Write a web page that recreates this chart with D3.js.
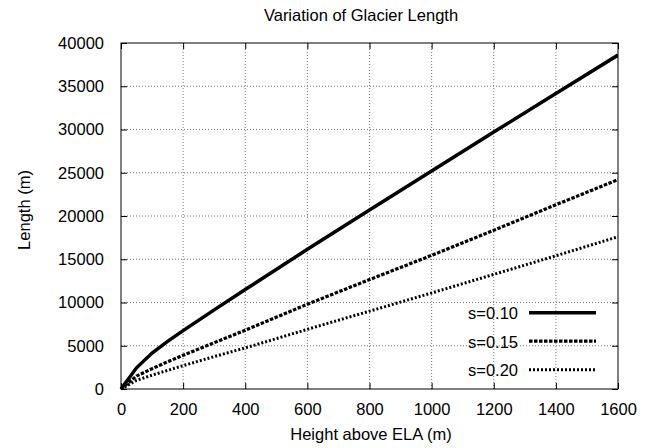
<!DOCTYPE html>
<html>
<head>
<meta charset="utf-8">
<script src="https://cdn.jsdelivr.net/npm/d3@7"></script>
<style>
  body { margin: 0; background: #fff; }
  svg text { font-family: "Liberation Sans", Arial, sans-serif; font-size: 16.5px; fill: #000; }
</style>
</head>
<body>
<div id="chart"></div>
<script>
const width = 653;
const height = 448;
const margin = {top: 43, left: 121, bottom: 59, right: 35};

// height above ELA (m)
const heights = [0, 50, 100, 150, 200, 300, 400, 600, 800, 1000, 1200, 1400, 1600];
const s010 = [0, 2450, 4150, 5500, 6750, 9150, 11500, 16150, 20700, 25200, 29700, 34150, 38600];
const s015 = [0, 1500, 2350, 3150, 3900, 5350, 6800, 9800, 12650, 15450, 18350, 21300, 24200];
const s020 = [0, 1000, 1600, 2150, 2700, 3750, 4750, 6900, 9000, 11100, 13250, 15400, 17600];
const seriesNames = ['s=0.10', 's=0.15', 's=0.20'];
const xTicks = [0, 200, 400, 600, 800, 1000, 1200, 1400, 1600];
const yTicks = [0, 5000, 10000, 15000, 20000, 25000, 30000, 35000, 40000];

const series = [
  {name: seriesNames[0], values: s010, width: 3.5, dash: null},
  {name: seriesNames[1], values: s015, width: 3.2, dash: '3.5,1.5'},
  {name: seriesNames[2], values: s020, width: 3, dash: '2,2'}
];

const x = d3.scaleLinear().domain([0, 1600]).range([margin.left, width - margin.right]);
const y = d3.scaleLinear().domain([0, 40000]).range([height - margin.bottom, margin.top]);

const svg = d3.select('#chart').append('svg')
  .attr('width', width).attr('height', height);

// grid
svg.append('g').selectAll('line').data(xTicks.slice(1, -1)).enter().append('line')
  .attr('x1', d => x(d)).attr('x2', d => x(d))
  .attr('y1', y(0)).attr('y2', y(40000))
  .attr('stroke', '#777').attr('stroke-width', 1).attr('stroke-dasharray', '1,2');
svg.append('g').selectAll('line').data(yTicks.slice(1, -1)).enter().append('line')
  .attr('x1', x(0)).attr('x2', x(1600))
  .attr('y1', d => y(d)).attr('y2', d => y(d))
  .attr('stroke', '#777').attr('stroke-width', 1).attr('stroke-dasharray', '1,2');

// axes (ticks inward, mirrored)
const fmt = d3.format('d');
const xAxis = g => g
  .attr('transform', `translate(0, ${y(0)})`)
  .call(d3.axisBottom(x).tickValues(xTicks).tickSizeInner(-6).tickSizeOuter(0).tickPadding(14).tickFormat(fmt))
  .call(g => g.select('.domain').remove());
const xAxisTop = g => g
  .attr('transform', `translate(0, ${y(40000)})`)
  .call(d3.axisTop(x).tickValues(xTicks).tickSizeInner(-6).tickSizeOuter(0).tickFormat(''))
  .call(g => g.select('.domain').remove());
const yAxis = g => g
  .attr('transform', `translate(${x(0)}, 0)`)
  .call(d3.axisLeft(y).tickValues(yTicks).tickSizeInner(-6).tickSizeOuter(0).tickPadding(17).tickFormat(fmt))
  .call(g => g.select('.domain').remove());
const yAxisRight = g => g
  .attr('transform', `translate(${x(1600)}, 0)`)
  .call(d3.axisRight(y).tickValues(yTicks).tickSizeInner(-6).tickSizeOuter(0).tickFormat(''))
  .call(g => g.select('.domain').remove());

svg.append('g').call(xAxis);
svg.append('g').call(xAxisTop);
svg.append('g').call(yAxis);
svg.append('g').call(yAxisRight);
svg.selectAll('.tick line').attr('stroke', '#000');
svg.selectAll('.tick text').style('font-size', '16.5px').style('font-family', '"Liberation Sans", Arial, sans-serif');

// frame
svg.append('rect')
  .attr('x', x(0)).attr('y', y(40000))
  .attr('width', x(1600) - x(0)).attr('height', y(0) - y(40000))
  .attr('fill', 'none').attr('stroke', '#000').attr('stroke-width', 1);

// lines
const line = d3.line().x((d, i) => x(heights[i])).y(d => y(d));
svg.append('defs').append('clipPath').attr('id', 'clip')
  .append('rect').attr('x', x(0) - 3).attr('y', y(40000))
  .attr('width', x(1600) - x(0) + 3).attr('height', y(0) - y(40000) + 3);
svg.append('g').attr('clip-path', 'url(#clip)')
  .selectAll('path').data(series).enter().append('path')
  .attr('d', d => line(d.values))
  .attr('fill', 'none').attr('stroke', '#000')
  .attr('stroke-width', d => d.width)
  .attr('stroke-dasharray', d => d.dash);

// legend
const legend = svg.append('g').selectAll('g').data(series).enter().append('g')
  .attr('transform', (d, i) => `translate(0, ${312.7 + i * 28.5})`);
legend.append('text')
  .attr('x', 518).attr('y', 6.5).attr('text-anchor', 'end')
  .text(d => d.name);
legend.append('line')
  .attr('x1', 529).attr('x2', 596).attr('y1', 0).attr('y2', 0)
  .attr('stroke', '#000')
  .attr('stroke-width', d => d.width)
  .attr('stroke-dasharray', d => d.dash);

// titles
svg.append('text').attr('x', 361).attr('y', 21).attr('text-anchor', 'middle')
  .text('Variation of Glacier Length');
svg.append('text').attr('x', 371).attr('y', 440).attr('text-anchor', 'middle')
  .text('Height above ELA (m)');
svg.append('text').attr('transform', `translate(29.5, 210) rotate(-90)`)
  .attr('text-anchor', 'middle')
  .text('Length (m)');
</script>
</body>
</html>
